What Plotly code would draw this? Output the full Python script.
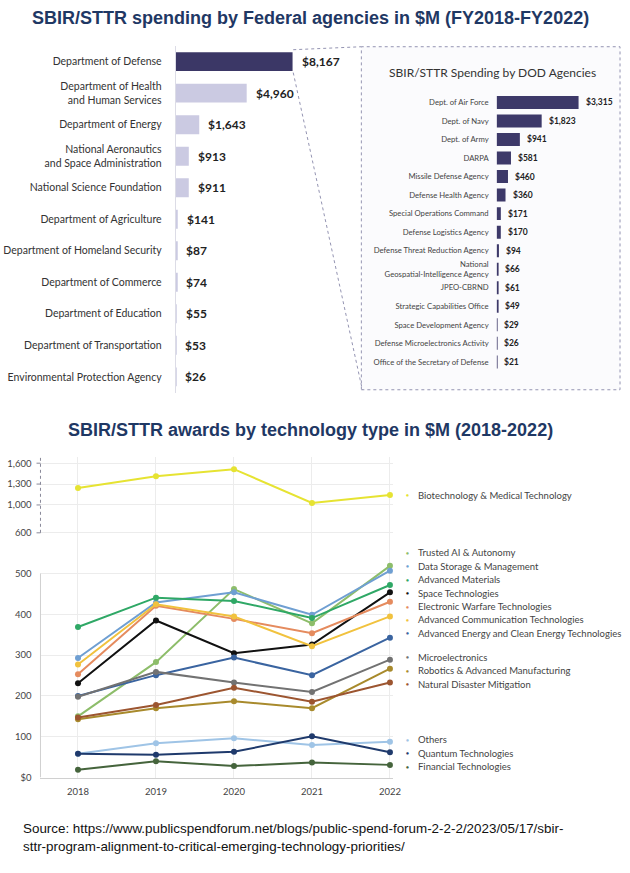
import numpy as np
import plotly.graph_objects as go

W, H = 630, 873
def PX(px): return px / W
def PY(py): return 1 - py / H

# ---------------- data ----------------
agencies = ["Department of Defense", "Department of Health<br>and Human Services",
            "Department of Energy", "National Aeronautics<br>and Space Administration",
            "National Science Foundation", "Department of Agriculture",
            "Department of Homeland Security", "Department of Commerce",
            "Department of Education", "Department of Transportation",
            "Environmental Protection Agency"]
agency_values = [8167, 4960, 1643, 913, 911, 141, 87, 74, 55, 53, 26]

dod_agencies = ["Dept. of Air Force", "Dept. of Navy", "Dept. of Army", "DARPA",
                "Missile Defense Agency", "Defense Health Agency",
                "Special Operations Command", "Defense Logistics Agency",
                "Defense Threat Reduction Agency",
                "National<br>Geospatial-Intelligence Agency", "JPEO-CBRND",
                "Strategic Capabilities Office", "Space Development Agency",
                "Defense Microelectronics Activity", "Office of the Secretary of Defense"]
dod_values = [3315, 1823, 941, 581, 460, 360, 171, 170, 94, 66, 61, 49, 29, 26, 21]

years = [2018, 2019, 2020, 2021, 2022]
tech_names = ["Biotechnology & Medical Technology",
              "Trusted AI & Autonomy", "Data Storage & Management", "Advanced Materials",
              "Space Technologies", "Electronic Warfare Technologies",
              "Advanced Communication Technologies",
              "Advanced Energy and Clean Energy Technologies",
              "Microelectronics", "Robotics & Advanced Manufacturing",
              "Natural Disaster Mitigation",
              "Others", "Quantum Technologies", "Financial Technologies"]
tech_values = [
    [1243, 1414, 1514, 1029, 1143],
    [150, 283, 462, 378, 519],
    [293, 429, 454, 399, 507],
    [369, 441, 433, 391, 472],
    [231, 385, 305, 326, 454],
    [253, 421, 389, 354, 431],
    [277, 425, 395, 322, 395],
    [200, 251, 294, 251, 343],
    [198, 259, 233, 210, 289],
    [143, 170, 187, 170, 267],
    [147, 178, 220, 186, 233],
    [58, 84, 96, 80, 88],
    [58, 56, 63, 101, 62],
    [19, 40, 28, 37, 31],
]
tech_colors = ["#e6e332", "#8dbd6a", "#6f9fd2", "#2fa866", "#111111", "#e58b5e",
               "#f1c23e", "#3a64a0", "#727272", "#a88a2c", "#9c5530",
               "#9fc4e6", "#1f3a6c", "#45643c"]
legend_groups = [1, 7, 3, 3]

y_ticks = [0, 100, 200, 300, 400, 500, 600, 1000, 1300, 1600]
y_ticktext = ["$0", "100", "200", "300", "400", "500", "600", "1,000", "1,300", "1,600"]

# broken (piecewise-linear) value scale of the line chart
scale_in = [0, 500, 600, 1000, 1300, 1600]
scale_out = [0, 500, 600, 668.3, 719.5, 770.7]
def yscale(v): return np.interp(v, scale_in, scale_out)

FONT = "Lato"
fig = go.Figure()

# ---------------- left bar chart ----------------
fig.add_trace(go.Bar(
    y=agencies, x=agency_values, orientation="h", width=0.6,
    marker=dict(color=["#3b3766"] + ["#cbcae2"] * (len(agencies) - 1), line=dict(width=0)),
    xaxis="x", yaxis="y", showlegend=False,
    hovertemplate="%{y}: $%{x:,}<extra></extra>"))

# ---------------- DOD bar chart ----------------
fig.add_trace(go.Bar(
    y=dod_agencies, x=dod_values, orientation="h", width=0.7,
    marker=dict(color="#3d3969", line=dict(width=0)),
    xaxis="x2", yaxis="y2", showlegend=False,
    hovertemplate="%{y}: $%{x:,}<extra></extra>"))

# ---------------- line chart ----------------
for name, vals, col in zip(tech_names, tech_values, tech_colors):
    fig.add_trace(go.Scatter(
        x=years, y=yscale(vals), customdata=vals, name=name,
        mode="lines+markers", line=dict(color=col, width=2),
        marker=dict(color=col, size=6), xaxis="x3", yaxis="y3", showlegend=False,
        hovertemplate=name + " %{x}: $%{customdata}<extra></extra>"))

annotations = []
# value labels
for a, v in zip(agencies, agency_values):
    annotations.append(dict(x=v, y=a, xref="x", yref="y", xanchor="left", yanchor="middle",
                            xshift=7, text=f"${v:,}", showarrow=False,
                            font=dict(family=FONT, size=12, color="#222222", weight="bold")))
for a, v in zip(dod_agencies, dod_values):
    annotations.append(dict(x=v, y=a, xref="x2", yref="y2", xanchor="left", yanchor="middle",
                            xshift=5, text=f"${v:,}", showarrow=False,
                            font=dict(family=FONT, size=8.5, color="#222222", weight="bold")))

def ptext(px, py, text, font, xanchor="center"):
    annotations.append(dict(x=PX(px), y=PY(py), xref="paper", yref="paper", showarrow=False,
                            xanchor=xanchor, yanchor="middle", text=text, font=font))

# titles
ptext(314, 18, "<b>SBIR/STTR spending by Federal agencies in $M (FY2018-FY2022)</b>",
      dict(family="Liberation Sans", size=18, color="#1f3864"))
ptext(314, 432, "<b>SBIR/STTR awards by technology type in $M (2018-2022)</b>",
      dict(family="Liberation Sans", size=18, color="#1f3864"))
ptext(499, 73, "SBIR/STTR Spending by DOD Agencies",
      dict(family=FONT, size=12, color="#333333"))

# custom legend
group_tops = [498, 556, 661, 744]
step = 13.5
idx = 0
for g, top in zip(legend_groups, group_tops):
    for k in range(g):
        py = top + k * step
        ptext(413, py, "●", dict(size=5, color=tech_colors[idx]))
        ptext(421, py, tech_names[idx], dict(family=FONT, size=9.5, color="#444444"),
              xanchor="left")
        idx += 1

# source
src_font = dict(family="Liberation Sans", size=13.4, color="#111111")
ptext(21, 833, "Source: https://www.publicspendforum.net/blogs/public-spend-forum-2-2-2/2023/05/17/sbir-",
      src_font, xanchor="left")
ptext(21, 851, "sttr-program-alignment-to-critical-emerging-technology-priorities/",
      src_font, xanchor="left")

dot = "#9494b2"
shapes = [
    dict(type="rect", xref="paper", yref="paper", x0=PX(366), x1=PX(628), y0=PY(392), y1=PY(47),
         line=dict(color=dot, width=1, dash="dot"), fillcolor="#fbfbfd", layer="below"),
    dict(type="line", xref="paper", yref="paper", x0=PX(297), y0=PY(50), x1=PX(366), y1=PY(47),
         line=dict(color=dot, width=1, dash="dot")),
    dict(type="line", xref="paper", yref="paper", x0=PX(297), y0=PY(73), x1=PX(367), y1=PY(392),
         line=dict(color=dot, width=1, dash="dot")),
    # line chart value axis: solid lower part, dotted compressed part
    dict(type="line", xref="paper", yref="y3", x0=PX(41), x1=PX(41), y0=0, y1=500,
         line=dict(color="#d0d0d0", width=1)),
    dict(type="line", xref="paper", yref="y3", x0=PX(41), x1=PX(41), y0=yscale(600), y1=785,
         line=dict(color="#888899", width=1, dash="dot")),
]
for t in [600, 1000, 1300, 1600]:
    shapes.append(dict(type="line", xref="paper", yref="y3", x0=PX(37), x1=PX(41),
                       y0=yscale(t), y1=yscale(t), line=dict(color="#888899", width=1)))

fig.update_layout(
    width=W, height=H, margin=dict(l=0, r=0, t=0, b=0),
    paper_bgcolor="white", plot_bgcolor="rgba(0,0,0,0)",
    font=dict(family=FONT),
    xaxis=dict(domain=[PX(178), PX(362)], range=[0, 12700], visible=False, fixedrange=True),
    yaxis=dict(domain=[PY(394.85), PY(46.15)], autorange="reversed", type="category",
               showline=True, linecolor="#dcdce6", linewidth=1, showgrid=False,
               ticks="", ticklabelstandoff=11, anchor="x",
               tickfont=dict(family=FONT, size=10.5, color="#333333")),
    xaxis2=dict(domain=[PX(503), PX(620)], range=[0, 4673], visible=False, anchor="y2"),
    yaxis2=dict(domain=[PY(373.3), PY(93.7)], autorange="reversed", type="category",
                showline=False, showgrid=False, ticks="", ticklabelstandoff=7, anchor="x2",
                tickfont=dict(family=FONT, size=7.7, color="#444444")),
    xaxis3=dict(domain=[PX(41), PX(398)], range=[2017.519, 2022.038], anchor="y3",
                tickvals=years, showgrid=True, gridcolor="#ececec", zeroline=False,
                showline=True, linecolor="#d0d0d0", ticks="", ticklabelstandoff=5,
                tickfont=dict(family=FONT, size=9.5, color="#444444")),
    yaxis3=dict(domain=[PY(782), PY(460)], range=[0, 785], anchor="x3",
                tickvals=list(yscale(y_ticks)), ticktext=y_ticktext,
                showgrid=True, gridcolor="#ececec", zeroline=False, showline=False,
                ticks="", ticklabelstandoff=8,
                tickfont=dict(family=FONT, size=9.5, color="#444444")),
    annotations=annotations, shapes=shapes,
)

fig.write_html("out.html")
